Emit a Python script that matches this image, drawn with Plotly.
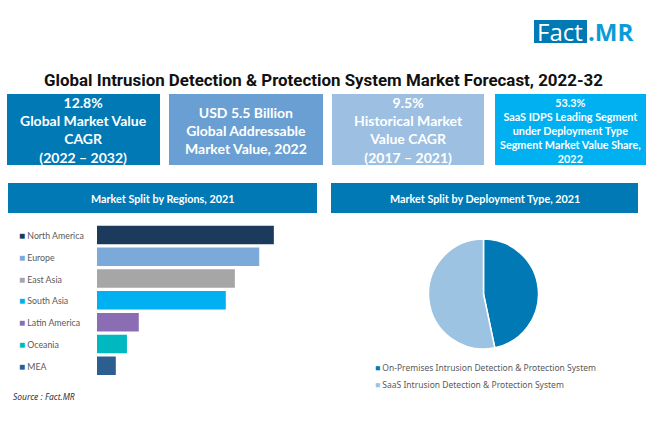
"""
Global Intrusion Detection & Protection System Market Forecast infographic.
"""

import plotly.graph_objects as go

WIDTH = 650
HEIGHT = 443

# Market split by regions, 2021 (shares).
regions = ["North America", "Europe", "East Asia", "South Asia",
           "Latin America", "Oceania", "MEA"]
region_values = [25.4, 23.3, 19.8, 18.5, 6.0, 4.3, 2.7]
region_colors = ["#1B3A5C", "#7BA9DA", "#A6A6A6", "#00B0F0",
                 "#8B6DB3", "#00B8C0", "#2C5F8F"]

# Market split by deployment type, 2021.
deployment = ["On-Premises Intrusion Detection & Protection System",
              "SaaS Intrusion Detection & Protection System"]
deployment_values = [46.7, 53.3]
deployment_colors = ["#0079B5", "#9DC3E3"]

title_text = "Global Intrusion Detection & Protection System Market Forecast, 2022-32"

box_texts = [
    "12.8%<br>Global Market Value<br>CAGR<br>(2022 – 2032)",
    "USD 5.5 Billion<br>Global Addressable<br>Market Value, 2022",
    "9.5%<br>Historical Market<br>Value CAGR<br>(2017 – 2021)",
    "53.3%<br>SaaS IDPS Leading Segment<br>under Deployment Type<br>"
    "Segment Market Value Share,<br>2022",
]
box_colors = ["#0079B5", "#6A9FD3", "#9DC0E2", "#00B0F0"]
box_font_sizes = [14, 14, 14, 10.8]
box_edges = [(7, 160), (169, 323), (332, 484), (495, 646)]

header_texts = ["Market Split by Regions, 2021",
                "Market Split by Deployment Type, 2021"]
header_edges = [(8, 317), (331, 638)]


def px(x):
    return x / WIDTH


def py(y):
    return 1 - y / HEIGHT


def rect(x0, x1, y0, y1, color):
    return dict(type="rect", xref="paper", yref="paper", layer="below",
                x0=px(x0), x1=px(x1), y0=py(y1), y1=py(y0),
                fillcolor=color, line_width=0)


def label(x, y, text, size, color, xanchor="center", **kwargs):
    font = dict(family=kwargs.pop("family", "Lato"), size=size, color=color)
    return dict(x=px(x), y=py(y), xref="paper", yref="paper", text=text,
                font=font, xanchor=xanchor, yanchor="middle",
                showarrow=False, align="center", **kwargs)


fig = go.Figure()

fig.add_trace(
    go.Bar(
        x=region_values,
        y=regions,
        orientation="h",
        marker_color=region_colors,
        marker_line_width=0,
        hoverinfo="x+y",
    )
)

fig.add_trace(
    go.Pie(
        labels=deployment,
        values=deployment_values,
        marker_colors=deployment_colors,
        marker_line_color="#FFFFFF",
        marker_line_width=1.5,
        sort=False,
        direction="clockwise",
        rotation=0,
        textinfo="none",
        domain=dict(x=[px(428.5), px(538.5)], y=[py(349), py(239)]),
    )
)

fig.update_xaxes(
    domain=[px(97), px(317)],
    range=[0, 31.6],
    visible=False,
)

fig.update_yaxes(
    domain=[py(376.7), py(224)],
    categoryorder="array",
    categoryarray=regions,
    autorange="reversed",
    visible=False,
)

shapes = [rect(534, 587, 20, 43, "#0079B5")]
annotations = [
    label(559.5, 31.5, "Fact", 24, "#FFFFFF", family="Open Sans"),
    label(586, 31.5, "<b>.MR</b>", 24, "#0A9BD8", xanchor="left", family="Open Sans"),
    label(323.5, 80, f"<b>{title_text}</b>", 16.9, "#111111", family="Roboto"),
]

for text, color, size, (x0, x1) in zip(box_texts, box_colors, box_font_sizes, box_edges):
    shapes.append(rect(x0, x1, 94, 165, color))
    annotations.append(label((x0 + x1) / 2, 130, f"<b>{text}</b>", size, "#FFFFFF"))

for text, (x0, x1) in zip(header_texts, header_edges):
    shapes.append(rect(x0, x1, 183, 213, "#0079B5"))
    annotations.append(label((x0 + x1) / 2, 198, f"<b>{text}</b>", 10.8, "#FFFFFF"))

# Leyenda de regiones, alineada con cada barra.
for region, color in zip(regions, region_colors):
    annotations.append(dict(
        x=px(17), y=region, xref="paper", yref="y", xanchor="left", yanchor="middle",
        text=f'<span style="color:{color};font-size:10px">■</span> {region}',
        font=dict(family="Lato", size=8.8, color="#595959"),
        showarrow=False,
    ))

annotations.append(label(11, 396, "<i>Source : Fact.MR</i>", 8.5, "#333333",
                         xanchor="left", family="Noto Sans"))

for i, (name, color) in enumerate(zip(deployment, deployment_colors)):
    annotations.append(label(
        373, 367 + i * 17, f'<span style="color:{color}">■</span> {name}',
        8.5, "#595959", xanchor="left", family="Noto Sans"))

fig.update_layout(
    showlegend=False,
    width=WIDTH,
    height=HEIGHT,
    margin=dict(t=0, l=0, r=0, b=0),
    paper_bgcolor="#FFFFFF",
    plot_bgcolor="#FFFFFF",
    bargap=0.15,
    shapes=shapes,
    annotations=annotations,
)

fig.write_html("out.html", config={"displayModeBar": False},
               post_script="document.body.style.margin = '0';")
